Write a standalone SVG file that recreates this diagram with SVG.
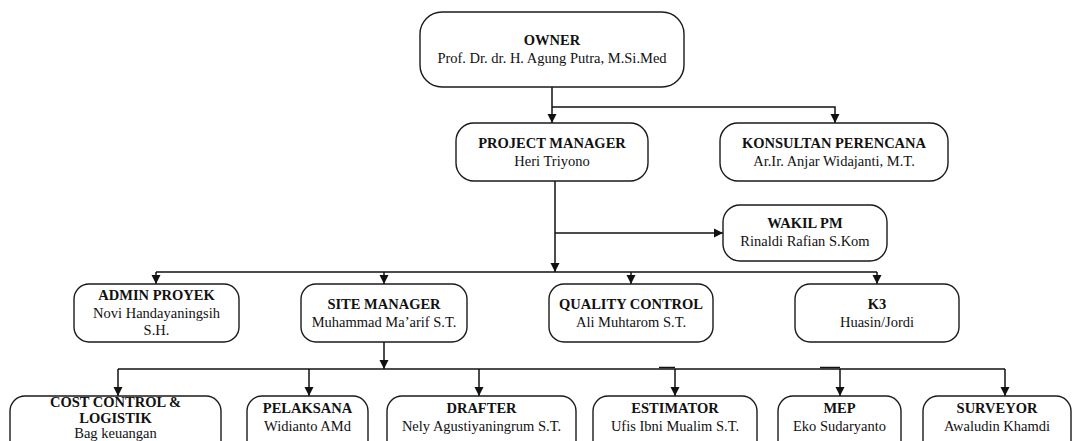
<svg xmlns="http://www.w3.org/2000/svg" width="1076" height="441" viewBox="0 0 1076 441">
<style>
.box{fill:#fff;stroke:#1a1a1a;stroke-width:1.4}
.ln{fill:none;stroke:#111;stroke-width:1.5}
text{font-family:"Liberation Serif","Times New Roman",serif;font-size:14.5px;fill:#111;text-anchor:middle}
.t{font-weight:bold}
</style>
<defs>
<marker id="ah" markerUnits="userSpaceOnUse" markerWidth="9" markerHeight="10" refX="10" refY="5" viewBox="0 0 10 10" orient="auto">
<path d="M0,0 L10,5 L0,10 z" fill="#111"/>
</marker>
</defs>
<rect width="1076" height="441" fill="#fff"/>
<g id="connectors">
<path class="ln" d="M552,87 V123" marker-end="url(#ah)"/>
<path class="ln" d="M552,107 H835 V123" marker-end="url(#ah)"/>
<path class="ln" d="M555,181 V272" marker-end="url(#ah)"/>
<path class="ln" d="M555,233 H723" marker-end="url(#ah)"/>
<path class="ln" d="M156,272 H877"/>
<path class="ln" d="M156,272 V284" marker-end="url(#ah)"/>
<path class="ln" d="M384,272 V284" marker-end="url(#ah)"/>
<path class="ln" d="M631,272 V284" marker-end="url(#ah)"/>
<path class="ln" d="M877,272 V284" marker-end="url(#ah)"/>
<path class="ln" d="M384,342 V369" marker-end="url(#ah)"/>
<path class="ln" d="M118,369 H1005"/>
<path class="ln" d="M659,367.5 H675 M820,367.5 H840"/>
<path class="ln" d="M118,369 V396" marker-end="url(#ah)"/>
<path class="ln" d="M309,369 V396" marker-end="url(#ah)"/>
<path class="ln" d="M479,369 V396" marker-end="url(#ah)"/>
<path class="ln" d="M675,369 V396" marker-end="url(#ah)"/>
<path class="ln" d="M840,369 V396" marker-end="url(#ah)"/>
<path class="ln" d="M1005,369 V396" marker-end="url(#ah)"/>
</g>
<g id="owner">
<rect class="box" x="420" y="12" width="264" height="75" rx="22"/>
<text class="t" x="552" y="45">OWNER</text>
<text x="552" y="63">Prof. Dr. dr. H. Agung Putra, M.Si.Med</text>
</g>
<g id="pm">
<rect class="box" x="456" y="123" width="192" height="58" rx="18"/>
<text class="t" x="552" y="148">PROJECT MANAGER</text>
<text x="552" y="166">Heri Triyono</text>
</g>
<g id="konsultan">
<rect class="box" x="720" y="123" width="228" height="58" rx="18"/>
<text class="t" x="834" y="148">KONSULTAN PERENCANA</text>
<text x="834" y="166">Ar.Ir. Anjar Widajanti, M.T.</text>
</g>
<g id="wakil">
<rect class="box" x="723" y="205" width="164" height="56" rx="17"/>
<text class="t" x="805" y="228">WAKIL PM</text>
<text x="805" y="246">Rinaldi Rafian S.Kom</text>
</g>
<g id="admin">
<rect class="box" x="74" y="284" width="165" height="58" rx="15"/>
<text class="t" x="156.5" y="300">ADMIN PROYEK</text>
<text x="156.5" y="318">Novi Handayaningsih</text>
<text x="156.5" y="335">S.H.</text>
</g>
<g id="site">
<rect class="box" x="301" y="284" width="166" height="58" rx="15"/>
<text class="t" x="384" y="309">SITE MANAGER</text>
<text x="384" y="327">Muhammad Ma’arif S.T.</text>
</g>
<g id="qc">
<rect class="box" x="549" y="284" width="164" height="58" rx="15"/>
<text class="t" x="631" y="309">QUALITY CONTROL</text>
<text x="631" y="327">Ali Muhtarom S.T.</text>
</g>
<g id="k3">
<rect class="box" x="795" y="284" width="164" height="58" rx="15"/>
<text class="t" x="877" y="309">K3</text>
<text x="877" y="327">Huasin/Jordi</text>
</g>
<g id="cost">
<rect class="box" x="10" y="396" width="211" height="60" rx="15"/>
<text class="t" x="115.5" y="407">COST CONTROL &amp;</text>
<text class="t" x="115.5" y="423">LOGISTIK</text>
<text x="115.5" y="438">Bag keuangan</text>
</g>
<g id="pelaksana">
<rect class="box" x="247" y="396" width="121" height="60" rx="15"/>
<text class="t" x="307.5" y="413">PELAKSANA</text>
<text x="307.5" y="431">Widianto AMd</text>
</g>
<g id="drafter">
<rect class="box" x="387" y="396" width="189" height="60" rx="15"/>
<text class="t" x="481.5" y="413">DRAFTER</text>
<text x="481.5" y="431">Nely Agustiyaningrum S.T.</text>
</g>
<g id="estimator">
<rect class="box" x="593" y="396" width="164" height="60" rx="15"/>
<text class="t" x="675" y="413">ESTIMATOR</text>
<text x="675" y="431">Ufis Ibni Mualim S.T.</text>
</g>
<g id="mep">
<rect class="box" x="778" y="396" width="123" height="60" rx="15"/>
<text class="t" x="839.5" y="413">MEP</text>
<text x="839.5" y="431">Eko Sudaryanto</text>
</g>
<g id="surveyor">
<rect class="box" x="923" y="396" width="148" height="60" rx="15"/>
<text class="t" x="997" y="413">SURVEYOR</text>
<text x="997" y="431">Awaludin Khamdi</text>
</g>
</svg>
